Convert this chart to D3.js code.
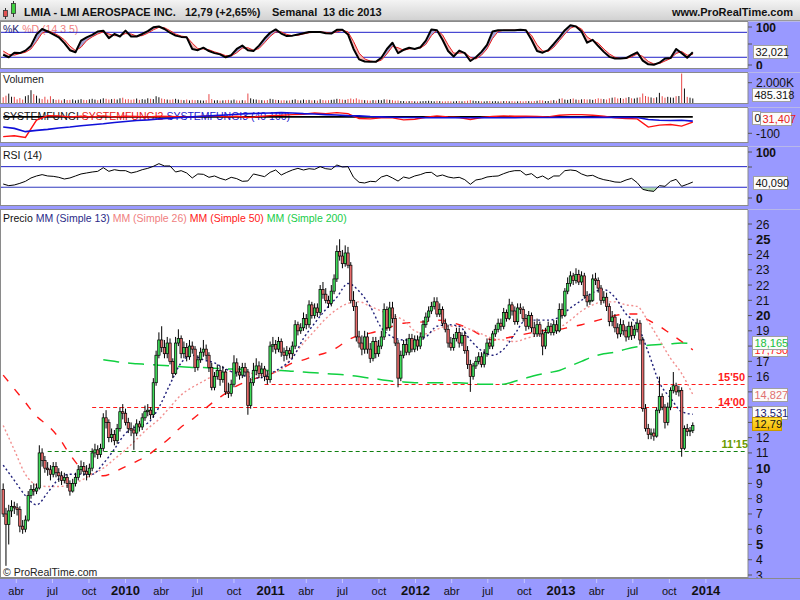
<!DOCTYPE html>
<html><head><meta charset="utf-8">
<script src="https://cdn.jsdelivr.net/npm/d3@7"></script>
<style>
body{margin:0;background:#fff;}
text{font-family:"Liberation Sans",Arial,sans-serif;}
</style>
</head><body>
<svg id="c" width="800" height="600"></svg>
<script>
// ---------------- DATA ----------------
const firstWeek = "2009-02-27";   // weekly candles (Fridays)
const opens = [
8.6,7.0,6.3,7.2,7.5,7.4,7.3,6.2,6.0,6.6,
8.2,8.6,8.5,8.7,11.0,10.5,10.0,9.9,9.6,10.1,
9.7,9.5,9.2,9.4,9.0,8.5,9.0,9.4,9.9,10.1,
9.8,9.6,10.0,11.0,11.2,10.9,11.3,13.3,13.0,12.0,
12.2,11.8,12.6,13.7,13.6,13.0,12.6,12.5,12.3,12.9,
12.7,13.3,13.7,13.8,13.5,15.6,17.4,18.4,17.9,17.5,
18.2,17.0,16.2,18.2,18.5,17.5,17.9,17.3,18.0,17.8,
16.6,17.1,17.6,17.8,17.4,16.6,15.3,16.0,16.4,15.8,
16.3,15.0,14.9,15.5,16.9,16.3,16.1,16.6,16.3,14.1,
15.6,16.4,16.7,16.2,16.5,16.0,15.8,18.0,18.1,17.8,
18.3,17.6,17.4,17.7,17.5,18.0,19.4,19.0,19.2,19.8,
19.4,20.7,20.0,20.5,20.2,21.7,21.4,21.0,20.8,21.6,
22.4,24.2,23.9,23.4,24.1,23.3,21.0,20.6,18.6,18.2,
17.8,18.6,17.8,17.2,18.3,17.5,18.0,18.6,20.4,19.2,
20.5,19.8,18.2,15.9,17.4,18.1,17.6,18.5,17.8,18.4,
18.0,18.6,19.4,19.9,20.3,20.6,20.9,20.1,20.4,19.5,
19.1,18.2,17.9,18.5,18.9,18.2,18.7,17.7,16.8,16.0,
16.7,17.0,17.3,16.8,17.5,18.2,18.0,18.8,19.1,19.5,
19.3,20.2,19.8,20.7,20.3,19.6,20.5,20.4,19.8,19.3,
20.0,19.2,18.8,19.4,18.8,18.0,18.9,19.3,18.9,19.4,
19.0,20.4,20.0,21.6,22.1,22.6,22.3,22.7,22.2,22.6,
21.3,20.9,21.0,22.4,22.3,21.8,21.0,21.2,20.6,19.6,
19.9,19.2,18.8,19.4,19.0,18.6,19.3,18.7,19.1,19.5,
18.4,13.9,12.6,12.2,12.3,12.1,13.8,14.7,14.0,13.0,
14.0,15.1,15.4,15.0,15.1,11.3,12.6,12.4,12.46];
const highs = [
9.0,7.4,7.6,7.9,7.8,7.7,7.5,6.6,6.9,8.5,
8.9,9.0,9.0,11.5,11.3,10.8,10.4,10.2,10.4,10.4,
10.0,9.8,9.7,9.6,9.2,9.3,9.7,10.2,10.5,10.4,
10.2,10.3,11.3,11.6,11.5,11.6,13.6,13.8,13.2,12.6,
12.5,12.9,14.0,14.2,13.9,13.3,13.0,12.8,13.2,13.1,
13.6,14.1,14.2,14.0,15.9,17.7,18.9,19.3,18.4,18.6,
18.5,17.2,18.6,19.1,18.7,18.3,18.2,18.4,18.3,18.0,
17.4,17.9,18.4,18.1,17.6,16.9,16.3,16.8,16.7,16.7,
16.5,15.6,15.8,17.4,17.2,16.7,16.9,16.9,16.5,15.9,
16.9,17.2,17.0,16.9,16.7,16.4,18.3,18.6,18.4,18.6,
18.5,17.9,18.0,17.9,18.3,19.7,19.6,19.5,20.2,20.1,
21.0,20.9,20.8,20.8,22.0,22.2,21.8,21.3,22.0,22.7,
24.6,25.0,24.3,24.6,24.5,23.5,21.6,20.9,19.0,18.7,
19.0,18.9,18.2,18.6,18.6,18.4,19.0,20.8,20.6,20.9,
20.9,20.1,18.4,17.7,18.4,18.5,18.8,18.8,18.7,18.7,
18.9,19.7,20.2,20.6,20.9,21.2,21.2,20.8,20.6,19.8,
19.4,18.6,18.8,19.2,19.2,18.9,19.0,18.0,17.1,16.9,
17.3,17.6,17.6,17.8,18.5,18.5,19.0,19.4,19.8,19.8,
20.5,20.4,21.1,20.9,20.6,20.8,20.8,20.6,20.1,20.3,
20.2,19.6,19.8,19.6,19.1,19.2,19.6,19.5,19.7,19.7,
20.8,20.8,21.8,22.5,22.9,22.8,23.1,23.0,22.9,22.8,
21.6,21.4,22.7,22.8,22.5,22.0,21.6,21.5,20.8,20.3,
20.1,19.5,19.8,19.7,19.3,19.6,19.6,19.4,19.8,19.7,
18.6,14.2,12.9,12.6,12.6,14.0,16.0,14.9,14.2,14.3,
15.3,16.3,15.6,15.4,15.3,12.8,12.9,12.7,13.0];
const lows = [
6.8,3.6,5.0,6.8,7.0,6.9,5.8,5.7,5.8,6.5,
8.0,8.2,8.3,8.6,10.1,9.7,9.5,9.2,9.4,9.4,
9.1,8.9,9.0,8.7,8.2,8.4,8.8,9.2,9.6,9.5,
9.2,9.4,9.8,10.7,10.6,10.7,11.1,12.6,11.7,11.7,
11.5,11.6,12.4,13.2,12.8,12.3,12.1,11.2,12.1,12.4,
12.5,13.1,13.4,13.2,13.3,15.4,17.2,17.6,17.2,17.2,
16.8,15.9,16.1,18.0,17.2,17.2,17.0,17.1,17.5,16.3,
16.4,16.9,17.3,17.1,16.3,15.1,15.1,15.8,15.4,15.6,
14.8,14.6,14.7,15.3,16.0,15.8,15.9,16.0,13.5,13.9,
15.4,16.1,15.9,15.9,15.7,15.5,15.6,17.6,17.5,17.6,
17.3,17.0,17.1,17.2,17.2,17.8,18.7,18.8,19.0,19.1,
19.2,19.8,19.8,19.9,20.0,21.1,20.8,20.5,20.6,21.4,
22.2,23.6,23.1,23.2,23.1,20.8,20.3,18.3,17.9,17.4,
17.5,17.5,16.9,17.0,17.2,17.3,17.8,18.4,19.0,19.0,
19.5,18.0,15.3,15.7,17.2,17.4,17.4,17.6,17.6,17.7,
17.8,18.4,19.2,19.6,20.1,20.4,19.9,19.9,19.3,18.9,
17.9,17.7,17.7,18.3,17.9,18.0,17.5,16.5,15.0,15.8,
16.5,16.8,16.6,16.6,17.3,17.8,17.8,18.6,18.9,19.0,
19.1,19.6,19.7,20.0,19.4,19.4,20.1,19.6,19.0,19.1,
18.9,18.6,18.6,18.6,17.4,17.8,18.8,18.7,18.7,18.8,
18.9,19.8,19.9,21.4,21.9,22.0,22.1,22.0,22.0,21.1,
20.6,20.7,20.9,22.0,21.5,20.7,20.8,20.3,19.3,19.3,
18.9,18.5,18.6,18.7,18.3,18.4,18.4,18.5,18.9,18.1,
13.7,12.4,11.9,11.9,11.8,12.0,13.6,13.8,12.6,12.8,
13.8,14.9,14.8,14.7,10.75,11.2,12.1,12.1,12.3];
const closes = [
7.0,6.3,7.2,7.5,7.4,7.3,6.2,6.0,6.6,8.2,
8.6,8.5,8.7,11.0,10.5,10.0,9.9,9.6,10.1,9.7,
9.5,9.2,9.4,9.0,8.5,9.0,9.4,9.9,10.1,9.8,
9.6,10.0,11.0,11.2,10.9,11.3,13.3,13.0,12.0,12.2,
11.8,12.6,13.7,13.6,13.0,12.6,12.5,12.3,12.9,12.7,
13.3,13.7,13.8,13.5,15.6,17.4,18.4,17.9,17.5,18.2,
17.0,16.2,18.2,18.5,17.5,17.9,17.3,18.0,17.8,16.6,
17.1,17.6,17.8,17.4,16.6,15.3,16.0,16.4,15.8,16.3,
15.0,14.9,15.5,16.9,16.3,16.1,16.6,16.3,14.1,15.6,
16.4,16.7,16.2,16.5,16.0,15.8,18.0,18.1,17.8,18.3,
17.6,17.4,17.7,17.5,18.0,19.4,19.0,19.2,19.8,19.4,
20.7,20.0,20.5,20.2,21.7,21.4,21.0,20.8,21.6,22.4,
24.2,23.9,23.4,24.1,23.3,21.0,20.6,18.6,18.2,17.8,
18.6,17.8,17.2,18.3,17.5,18.0,18.6,20.4,19.2,20.5,
19.8,18.2,15.9,17.4,18.1,17.6,18.5,17.8,18.4,18.0,
18.6,19.4,19.9,20.3,20.6,20.9,20.1,20.4,19.5,19.1,
18.2,17.9,18.5,18.9,18.2,18.7,17.7,16.8,16.0,16.7,
17.0,17.3,16.8,17.5,18.2,18.0,18.8,19.1,19.5,19.3,
20.2,19.8,20.7,20.3,19.6,20.5,20.4,19.8,19.3,20.0,
19.2,18.8,19.4,18.8,18.0,18.9,19.3,18.9,19.4,19.0,
20.4,20.0,21.6,22.1,22.6,22.3,22.7,22.2,22.6,21.3,
20.9,21.0,22.4,22.3,21.8,21.0,21.2,20.6,19.6,19.9,
19.2,18.8,19.4,19.0,18.6,19.3,18.7,19.1,19.5,18.4,
13.9,12.6,12.2,12.3,12.1,13.8,14.7,14.0,13.0,14.0,
15.1,15.4,15.0,15.1,11.3,12.6,12.4,12.46,12.79];
// weekly volume, thousands of shares
const volumes = [
600,750,950,650,640,400,520,380,700,800,
1280,900,750,480,420,650,380,700,420,350,
380,300,420,330,350,400,300,360,420,350,
330,400,450,380,320,400,500,450,380,420,
450,380,500,560,400,420,360,400,480,350,
420,380,500,450,420,700,600,480,420,380,
360,400,450,380,350,320,380,300,350,320,
330,300,280,320,900,420,300,320,280,300,
320,350,300,380,300,280,320,300,960,500,
400,380,350,320,300,330,450,400,350,330,
300,320,280,300,350,400,320,300,380,330,
350,300,320,280,400,330,300,320,350,380,
450,420,380,350,420,480,400,500,380,350,
320,300,280,330,300,350,320,400,380,350,
320,270,290,240,230,210,230,240,210,200,
210,230,240,260,230,210,250,230,200,210,
230,210,200,230,240,210,230,260,320,270,
240,230,210,200,230,240,210,230,200,210,
230,240,210,230,200,210,230,200,240,230,
210,230,260,320,290,230,240,290,320,270,
450,500,380,350,420,480,380,350,400,420,
380,400,350,420,500,450,420,380,500,560,
600,480,520,450,550,620,500,480,560,600,
960,720,650,580,520,600,1024,700,560,640,
580,560,700,720,2880,1440,640,560,485.318];
// moving averages, one reading every 4 weeks
const ma13 = [10.2,9.2,8.2,7.6,8.4,9.3,9.6,9.6,9.6,10.3,
11.25,12.28,12.73,12.96,13.98,15.5,16.9,17.4,17.1,16.9,
16.5,16.2,16.0,15.9,16.2,16.6,17.2,18.5,19.5,20.4,
21.2,22.1,21.6,20.6,19.2,18.6,18.4,18.4,18.6,19.3,
19.4,19.3,18.4,17.7,17.4,17.8,18.8,19.7,19.7,19.7,
19.9,20.5,21.0,21.5,21.7,21.2,20.1,19.4,17.6,15.6,
14.6,13.7,13.531];
const ma26 = [12.8,11.2,9.6,8.9,8.8,8.8,8.9,9.2,9.6,10.0,
10.6,11.2,11.9,12.6,13.2,14.0,14.8,15.3,15.7,16.1,
16.3,16.4,16.3,16.1,16.2,16.5,17.3,18.2,19.0,19.8,
20.4,20.8,20.9,20.6,20.3,20.0,19.7,19.0,18.8,19.1,
19.3,19.3,19.1,18.8,18.5,18.4,18.3,18.5,18.7,18.9,
19.2,19.7,20.3,20.7,20.9,20.9,20.7,20.6,19.6,18.4,
17.2,16.2,14.827];
const ma50 = [16.1,15.2,14.3,13.4,12.8,12.0,10.9,10.0,9.6,9.5,
9.75,10.1,10.45,10.85,11.4,12.0,12.7,13.2,13.8,14.4,
14.9,15.4,15.7,15.95,16.15,16.5,16.9,17.1,17.35,17.55,
17.9,18.4,18.7,18.85,19.05,19.3,19.5,19.55,19.6,19.7,
19.6,19.4,19.1,18.7,18.4,18.5,18.65,18.8,18.95,19.05,
19.1,19.25,19.4,19.6,19.8,20.0,20.1,20.1,19.7,19.3,
18.8,18.3,17.75];
const ma200 = [null,null,null,null,null,null,null,null,null,
17.1,17.0,16.9,16.85,16.8,16.75,16.7,16.65,16.6,16.6,16.55,
16.5,16.5,16.45,16.4,16.4,16.4,16.35,16.3,16.25,16.2,
16.15,16.1,16.0,15.9,15.8,15.7,15.65,15.6,15.6,15.6,
15.6,15.6,15.55,15.5,15.5,15.5,15.7,15.9,16.1,16.25,
16.4,16.7,17.0,17.3,17.5,17.6,17.8,17.95,18.05,18.1,
18.15,18.2,18.165];
// stochastic %K / %D and RSI, one reading every 2 weeks
const stochK = [26,20,31,30,36,48,75,88,82,75,68,54,37,32,60,68,74,82,84,66,
76,70,84,70,70,76,83,92,94,88,79,72,69,68,40,37,43,35,30,27,
20,25,40,48,37,35,48,65,79,87,77,71,72,75,78,81,81,81,78,77,
86,86,75,40,15,10,9,9,19,40,55,30,38,43,40,44,60,87,85,62,
35,22,36,30,11,20,33,50,82,85,85,85,85,86,85,62,35,31,37,52,
68,85,97,94,82,55,62,47,33,21,17,17,18,25,32,12,3,2,7,17,
18,40,30,19,32.021];
const stochD = [35,27,25,29,32,40,58,78,84,79,72,62,47,36,44,60,69,76,81,76,
72,72,77,76,71,72,78,86,92,91,84,76,71,69,54,41,40,38,33,29,
24,23,31,42,43,37,41,55,70,81,81,75,72,73,76,79,80,81,80,78,
81,85,81,58,30,16,11,9,13,28,46,43,37,40,41,42,51,72,85,74,
50,30,30,31,20,16,25,40,65,82,85,85,85,85,85,73,50,35,34,44,
60,76,90,95,88,69,60,54,40,28,20,17,17,21,28,22,10,4,5,11,
17,29,34,25,27];
const rsi = [36.3,33.1,34.4,37.6,41.5,48,51.9,54.5,51.9,51.2,
49.3,46,48,51.9,55.8,57.7,59.6,60.9,68,60.9,
64.1,62.2,62.2,57.7,60.2,64.1,66.7,70.6,75.8,71.3,
71.3,59.6,62.2,57.7,48,55.8,55.1,49.3,51.9,47.3,
44.1,49.3,46.7,41.5,42.2,55.8,53.2,50.6,59,63.5,
53.8,59,63.5,66.7,63.5,66,64.8,70,66,64.8,
73.2,69.3,70,49.3,39.6,38.3,41.5,40.8,49.9,53.2,
48,42,49.9,47.3,51.9,54.5,58.4,59,51.2,53.8,
49.9,48,49.3,44.7,35.7,44.1,46,49.9,51.2,51.9,
56.4,60.2,62.2,62.2,53.8,56.4,48,51.9,45.4,51.9,
51.9,62.2,63.5,62.2,55.8,51.9,53.2,48,44.7,42.8,
40.2,39.6,44.1,47.3,38.9,25.9,23.3,22,33.1,31.8,
41.5,45.4,31.8,35.7,40.09];
// SYSTEMFUNGI2 (red) and SYSTEMFUNGI3 (blue), one reading every 4 weeks
const fungi2 = [-120,-115,-125,-20,8,6,0,4,0,6,0,4,2,0,4,2,0,0,4,6,
0,4,-4,2,8,10,14,16,24,20,26,20,-10,-12,-6,-6,-18,-14,-2,6,
0,-4,-16,-4,2,6,4,4,2,0,10,14,14,10,4,-6,-10,-12,-62,-50,
-46,-56,-31.407];
const fungi3 = [-62,-70,-90,-82,-76,-68,-62,-54,-48,-42,-34,-28,-22,-18,-12,-8,-4,0,4,8,
12,16,20,22,24,26,24,20,18,14,12,8,6,2,0,-2,-4,-4,-5,-5,
-5,-5,-5,-5,-5,-5,-5,-4,-4,-4,-3,-3,-3,-3,-3,-3,-3,-4,-16,-20,
-22,-20,-26];
const fungi1 = 0;
// support / resistance levels
const levelValues = [15.5, 14.0, 11.15];
const levelLabels = ["15'50", "14'00", "11'15"];
const levelStarts = ["2010-12-17", "2009-10-09", "2009-06-19"];
// price ticks left visible (13, 14, 15, 18 sit under the value boxes)
const priceTicks = [3,4,5,6,7,8,9,10,11,12,16,17,19,20,21,22,23,24,25,26];
const monthNames = {3:"abr", 6:"jul", 9:"oct"};

// ---------------- LAYOUT ----------------
const svg = d3.select("#c");
const PR = 748, W = 800;
const LAV = "#9999ff", BORDER = "#8a8a8a";
const day = 864e5;
const t0 = Date.parse(firstWeek + "T00:00:00Z");
const dates = closes.map((_, i) => new Date(t0 + i * 7 * day));
const x = d3.scaleUtc()
  .domain([new Date(Date.UTC(2009, 1, 19)), new Date(Date.UTC(2014, 3, 17))])
  .range([0, PR]);

const P = {
  st: {t: 21, b: 69},
  vol: {t: 72, b: 104},
  sf: {t: 107, b: 143},
  rsi: {t: 146, b: 206},
  pr: {t: 209, b: 578}
};

const defs = svg.append("defs");
const hg = defs.append("linearGradient").attr("id", "hdr").attr("x1", 0).attr("y1", 0).attr("x2", 0).attr("y2", 1);
hg.append("stop").attr("offset", 0).attr("stop-color", "#f4f4f4");
hg.append("stop").attr("offset", 1).attr("stop-color", "#d2d2d2");
const gg = defs.append("linearGradient").attr("id", "gold").attr("x1", 0).attr("y1", 0).attr("x2", 0).attr("y2", 1);
gg.append("stop").attr("offset", 0).attr("stop-color", "#ffe040");
gg.append("stop").attr("offset", 1).attr("stop-color", "#f5b800");

svg.append("rect").attr("width", W).attr("height", 600).attr("fill", LAV);

// header
svg.append("rect").attr("x", 0).attr("y", 0).attr("width", W).attr("height", 20).attr("fill", "url(#hdr)");
svg.append("line").attr("x1", 0).attr("x2", W).attr("y1", 20.5).attr("y2", 20.5).attr("stroke", "#9a9a9a");
// icon
svg.append("line").attr("x1", 5.5).attr("x2", 5.5).attr("y1", 8).attr("y2", 19).attr("stroke", "#333");
svg.append("rect").attr("x", 3.5).attr("y", 10.5).attr("width", 4).attr("height", 6).attr("fill", "#e05050").attr("stroke", "#333").attr("stroke-width", 0.8);
svg.append("line").attr("x1", 13.5).attr("x2", 13.5).attr("y1", 1).attr("y2", 17).attr("stroke", "#333");
svg.append("rect").attr("x", 11.5).attr("y", 3.5).attr("width", 4).attr("height", 10).attr("fill", "#40d040").attr("stroke", "#333").attr("stroke-width", 0.8);
const hdrText = (xx, t, anchor) => svg.append("text").attr("x", xx).attr("y", 15.5)
  .attr("font-size", 11).attr("font-weight", "bold").attr("fill", "#111")
  .attr("text-anchor", anchor || "start").text(t);
hdrText(24, "LMIA - LMI AEROSPACE INC.");
hdrText(185, "12,79 (+2,65%)");
hdrText(272, "Semanal");
hdrText(323, "13 dic 2013");
hdrText(793, "www.ProRealTime.com", "end");

// panels
Object.entries(P).forEach(([k, p]) => {
  svg.append("rect").attr("x", 0.5).attr("y", p.t + 0.5).attr("width", PR - 0.5).attr("height", p.b - p.t - 1)
    .attr("fill", "#fff").attr("stroke", BORDER);
  svg.append("line").attr("x1", PR).attr("x2", W).attr("y1", p.t + 0.5).attr("y2", p.t + 0.5).attr("stroke", "#b8b8e8");
  defs.append("clipPath").attr("id", "clip-" + k).append("rect")
    .attr("x", 1).attr("y", p.t + 1).attr("width", PR - 2).attr("height", p.b - p.t - 2);
  defs.append("clipPath").attr("id", "rclip-" + k).append("rect")
    .attr("x", PR).attr("y", p.t).attr("width", W - PR).attr("height", p.b - p.t);
});

const label = (g, xx, yy, parts) => {
  const t = g.append("text").attr("x", xx).attr("y", yy).attr("font-size", 10.5);
  parts.forEach(([s, c]) => t.append("tspan").attr("fill", c).text(s));
  return t;
};
const tickLabel = (k, yy, t, bold, size) => {
  const g = svg.append("g").attr("clip-path", "url(#rclip-" + k + ")");
  g.append("line").attr("x1", PR).attr("x2", PR + 4).attr("y1", yy).attr("y2", yy).attr("stroke", "#555");
  if (t) g.append("text").attr("x", PR + 8).attr("y", yy + 4.5).attr("font-size", size || 12)
    .attr("font-weight", bold ? "bold" : "normal").attr("fill", "#111").text(t);
};
const vbox = (xl, yc, w, t, color, fill, stroke) => {
  svg.append("rect").attr("x", xl + 0.5).attr("y", Math.round(yc - 6.5) + 0.5).attr("width", w).attr("height", 13)
    .attr("fill", fill || "#fbfbfb").attr("stroke", stroke || "#a0a0a0");
  svg.append("text").attr("x", xl + 2.5).attr("y", Math.round(yc - 6.5) + 11).attr("font-size", 11)
    .attr("fill", color).text(t);
};

// ---------- Stochastic panel ----------
const stY = d3.scaleLinear().domain([0, 100]).range([65.6, 24]);
const stData = stochK.map((k, j) => ({d: dates[2 * j], k: k, dd: stochD[j]})).filter(d => d.d);
const gSt = svg.append("g").attr("clip-path", "url(#clip-st)");
label(gSt, 3, 33, [["%K ", "#1a1a6a"], ["%D (14 3 5)", "#f08080"]]);
[80, 20].forEach(v => gSt.append("line").attr("x1", 0).attr("x2", PR).attr("y1", stY(v)).attr("y2", stY(v)).attr("stroke", "#2020c8"));
defs.append("clipPath").attr("id", "stAbove").append("path")
  .attr("d", d3.area().x(d => x(d.d)).y0(P.st.t).y1(d => stY(d.dd))(stData));
defs.append("clipPath").attr("id", "stBelow").append("path")
  .attr("d", d3.area().x(d => x(d.d)).y0(P.st.b).y1(d => stY(d.dd))(stData));
const stArea = d3.area().x(d => x(d.d)).y0(d => stY(d.dd)).y1(d => stY(d.k));
gSt.append("g").attr("clip-path", "url(#stAbove)").append("path").attr("d", stArea(stData)).attr("fill", "#a4a4d4");
gSt.append("g").attr("clip-path", "url(#stBelow)").append("path").attr("d", stArea(stData)).attr("fill", "#f5b8b8");
gSt.append("path").attr("d", d3.line().x(d => x(d.d)).y(d => stY(d.dd))(stData)).attr("fill", "none").attr("stroke", "#e82020").attr("stroke-width", 1);
gSt.append("path").attr("d", d3.line().x(d => x(d.d)).y(d => stY(d.k))(stData)).attr("fill", "none").attr("stroke", "#000").attr("stroke-width", 2).attr("stroke-linejoin", "round");
tickLabel("st", 27, "100", true);
tickLabel("st", 44, null);
tickLabel("st", 65, "0", true);
vbox(753, stY(stochK[stochK.length - 1]) - 1, 34, "32,021", "#111");

// ---------- Volume panel ----------
const vY = d3.scaleLinear().domain([0, 2000]).range([103.5, 82.7]);
const gV = svg.append("g").attr("clip-path", "url(#clip-vol)");
label(gV, 3, 83, [["Volumen", "#222"]]);
gV.selectAll("line.v").data(volumes.map((v, i) => ({d: dates[i], v: v, up: closes[i] >= opens[i]})))
  .join("line").attr("class", "v")
  .attr("x1", d => x(d.d)).attr("x2", d => x(d.d)).attr("y1", vY(0)).attr("y2", d => vY(d.v))
  .attr("stroke", d => d.up ? "#111" : "#e84848").attr("stroke-width", 1);
tickLabel("vol", 82.7, "2.000K", false, 12);
vbox(752, 94, 38, "485.318", "#111");

// ---------- SYSTEMFUNGI panel ----------
const sfY = d3.scaleLinear().domain([-100, 0]).range([133.3, 116.9]);
const gS = svg.append("g").attr("clip-path", "url(#clip-sf)");
label(gS, 3, 120, [["SYSTEMFUNGI ", "#111"], ["SYSTEMFUNGI2 ", "#e82020"], ["SYSTEMFUNGI3 (40 100)", "#2020d0"]]);
const sfData = fungi2.map((v, k) => ({d: dates[4 * k], r: v, b: fungi3[k]})).filter(d => d.d);
gS.append("line").attr("x1", x(dates[0])).attr("x2", x(dates[dates.length - 1]))
  .attr("y1", sfY(fungi1)).attr("y2", sfY(fungi1)).attr("stroke", "#000").attr("stroke-width", 1.6);
gS.append("path").attr("d", d3.line().x(d => x(d.d)).y(d => sfY(d.r))(sfData)).attr("fill", "none").attr("stroke", "#ff1010").attr("stroke-width", 1.4);
gS.append("path").attr("d", d3.line().x(d => x(d.d)).y(d => sfY(d.b))(sfData)).attr("fill", "none").attr("stroke", "#1010d8").attr("stroke-width", 1.6);
tickLabel("sf", 133.3, "-100", false, 12);
vbox(760, 118.5, 31, "31,407", "#e82020");
vbox(752, 117, 8, "0", "#111");

// ---------- RSI panel ----------
const rY = d3.scaleLinear().domain([0, 100]).range([202.7, 151.2]);
const gR = svg.append("g").attr("clip-path", "url(#clip-rsi)");
label(gR, 3, 159, [["RSI (14)", "#111"]]);
[70, 30].forEach(v => gR.append("line").attr("x1", 0).attr("x2", PR).attr("y1", rY(v)).attr("y2", rY(v)).attr("stroke", "#2020c8"));
const rData = rsi.map((v, j) => ({d: dates[2 * j], v: v})).filter(d => d.d);
defs.append("clipPath").attr("id", "rLow").append("rect").attr("x", 0).attr("y", rY(30)).attr("width", PR).attr("height", 30);
gR.append("path").attr("clip-path", "url(#rLow)")
  .attr("d", d3.area().x(d => x(d.d)).y0(rY(30)).y1(d => rY(d.v))(rData)).attr("fill", "#acd8ac");
gR.append("path").attr("d", d3.line().x(d => x(d.d)).y(d => rY(d.v))(rData)).attr("fill", "none").attr("stroke", "#000").attr("stroke-width", 1);
tickLabel("rsi", 152, "100", true);
tickLabel("rsi", 167, null);
tickLabel("rsi", 198, "0", true);
vbox(753, rY(40.09), 34, "40,090", "#111");

// ---------- Price panel ----------
const pY = d3.scaleLinear().domain([3, 26]).range([575, 224]);
const gP = svg.append("g").attr("clip-path", "url(#clip-pr)");
label(gP, 3, 221.5, [["Precio ", "#111"], ["MM (Simple 13) ", "#2a2a88"], ["MM (Simple 26) ", "#f08080"],
  ["MM (Simple 50) ", "#ff2020"], ["MM (Simple 200)", "#18cc48"]]);
const levelColors = ["#ff1a1a", "#ff1a1a", "#108010"];
levelValues.forEach((v, i) => {
  gP.append("line").attr("x1", x(new Date(levelStarts[i] + "T00:00:00Z"))).attr("x2", PR)
    .attr("y1", Math.round(pY(v)) + 0.5).attr("y2", Math.round(pY(v)) + 0.5)
    .attr("stroke", levelColors[i]).attr("stroke-width", 1.2).attr("stroke-dasharray", "4,3");
});
const maDefs = [
  [ma200, "#10d040", 1.5, "16,9"],
  [ma50, "#ff1818", 1.4, "8,10"],
  [ma26, "#f29090", 1.4, "2,2.5"],
  [ma13, "#20207a", 1.4, "2,2.5"]
];
maDefs.forEach(([arr, col, sw, dash]) => {
  const pts = arr.map((v, k) => ({d: dates[4 * k], v: v})).filter(d => d.d);
  gP.append("path")
    .attr("d", d3.line().defined(d => d.v != null).x(d => x(d.d)).y(d => pY(d.v)).curve(d3.curveMonotoneX)(pts))
    .attr("fill", "none").attr("stroke", col).attr("stroke-width", sw).attr("stroke-dasharray", dash);
});
const candles = closes.map((c, i) => ({d: dates[i], o: opens[i], h: highs[i], l: lows[i], c: c}));
const cg = gP.append("g");
cg.selectAll("line.w").data(candles).join("line").attr("class", "w")
  .attr("x1", d => x(d.d)).attr("x2", d => x(d.d))
  .attr("y1", d => pY(Math.max(d.h, d.o, d.c))).attr("y2", d => pY(Math.min(d.l, d.o, d.c)))
  .attr("stroke", "#000").attr("stroke-width", 1);
cg.selectAll("rect.b").data(candles).join("rect").attr("class", "b")
  .attr("x", d => x(d.d) - 1.2).attr("width", 2.4)
  .attr("y", d => pY(Math.max(d.o, d.c)))
  .attr("height", d => Math.max(1, pY(Math.min(d.o, d.c)) - pY(Math.max(d.o, d.c))))
  .attr("fill", d => d.c >= d.o ? "#3fdc5a" : "#e86c6c")
  .attr("stroke", "#000").attr("stroke-width", 0.7);
// level labels
const lvlTextCol = ["#ff1a1a", "#ff1a1a", "#6a9a00"];
const lvlDy = [-7, -5, -7];
levelValues.forEach((v, i) => {
  svg.append("text").attr("x", i === 2 ? 748 : 745).attr("y", pY(v) + lvlDy[i] + 4).attr("text-anchor", "end")
    .attr("font-size", 11).attr("font-weight", "bold").attr("fill", lvlTextCol[i]).text(levelLabels[i]);
});
svg.append("text").attr("x", 3).attr("y", 576).attr("font-size", 10.5).attr("fill", "#222").text("© ProRealTime.com");

// price axis
[13, 14, 15, 18].forEach(v => tickLabel("pr", pY(v), null));
priceTicks.forEach(v => tickLabel("pr", pY(v), String(v), v % 5 === 0, v % 5 === 0 ? 13 : 12));
vbox(752, pY(17.75) - 0.5, 35, "17,750", "#ff2020");
vbox(752, pY(18.165) - 1, 35, "18,165", "#18c040");
vbox(752, pY(14.827), 35, "14,827", "#e07070");
vbox(752, pY(13.531) - 1.5, 35, "13,531", "#1a1a70");
vbox(752, pY(12.79) - 2.3, 29, "12,79", "#111", "url(#gold)", "#c89a00");

// ---------- time axis ----------
svg.append("line").attr("x1", 0).attr("x2", W).attr("y1", 578.5).attr("y2", 578.5).attr("stroke", BORDER);
const qTicks = d3.utcMonth.range(new Date(Date.UTC(2009, 3, 1)), new Date(Date.UTC(2014, 1, 1)), 3);
qTicks.forEach(t => {
  const xx = x(t);
  svg.append("line").attr("x1", xx).attr("x2", xx).attr("y1", 579).attr("y2", 583).attr("stroke", "#c8c8ff");
  const m = t.getUTCMonth();
  const isYear = m === 0;
  svg.append("text").attr("x", xx).attr("y", 595).attr("text-anchor", "middle")
    .attr("font-size", isYear ? 13 : 11).attr("font-weight", isYear ? "bold" : "normal").attr("fill", "#111")
    .text(isYear ? t.getUTCFullYear() : monthNames[m]);
});
</script>
</body></html>
